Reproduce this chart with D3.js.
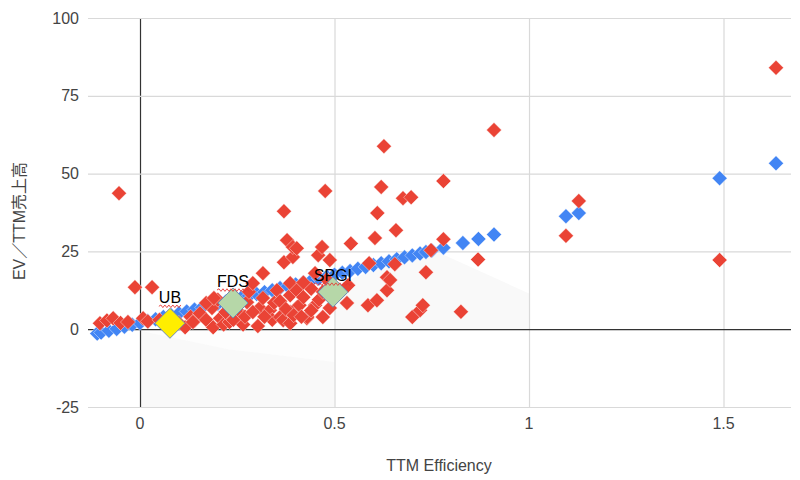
<!DOCTYPE html>
<html><head><meta charset="utf-8">
<script src="https://cdn.jsdelivr.net/npm/d3@7"></script>
<style>body{margin:0;background:#fff}</style>
</head><body><svg id="c" width="800" height="480"></svg>
<script>
// ---- data ----
const xTicks = [0, 0.5, 1, 1.5];
const yTicks = [-25, 0, 25, 50, 75, 100];
const xTitle = "TTM Efficiency";
const yTitle = "EV／TTM売上高";

const redPoints = [
  [-0.103,1.9],[-0.085,2.8],[-0.069,3.5],[-0.05,2.0],[-0.031,2.3],[0.008,3.5],[-0.054,43.7],
  [-0.013,13.5],[0.031,13.5],[0.02,2.5],[0.05,3.0],[0.1,2.0],[0.116,0.6],[0.13,4.0],[0.141,2.9],
  [0.136,2.3],[0.154,5.1],[0.17,3.0],[0.185,8.7],[0.185,6.8],[0.188,0.6],[0.2,9.5],[0.17,8.4],[0.19,10.0],
  [0.206,3.5],[0.215,1.5],[0.23,2.3],[0.25,6.0],[0.257,4.5],[0.265,1.5],[0.275,8.7],[0.28,12.0],
  [0.29,14.8],[0.303,1.0],[0.308,6.8],[0.316,10.0],[0.316,18.0],[0.334,6.1],[0.34,3.0],[0.352,12.5],
  [0.36,3.9],[0.368,2.9],[0.37,37.9],[0.37,21.5],[0.378,28.6],[0.386,5.5],[0.386,10.9],[0.386,14.8],
  [0.386,1.9],[0.393,23.2],[0.393,26.4],[0.403,26.0],[0.403,12.5],[0.403,7.0],[0.41,7.7],[0.42,10.3],
  [0.429,3.5],[0.43,3.9],[0.45,7.7],[0.458,23.8],[0.468,26.4],[0.47,3.9],[0.476,44.4],[0.488,22.2],
  [0.488,6.8],[0.22,5.5],[0.24,3.0],[0.27,4.0],[0.29,5.5],[0.32,4.0],[0.345,8.5],[0.36,9.0],
  [0.375,6.5],[0.395,4.5],[0.415,4.0],[0.44,6.0],[0.46,9.5],[0.47,12.0],[0.44,13.0],[0.42,15.0],
  [0.45,18.0],[0.48,16.0],[0.532,8.4],[0.535,14.1],[0.542,27.5],[0.586,7.7],[0.589,21.2],[0.604,29.3],
  [0.61,37.3],[0.609,9.3],[0.62,45.7],[0.627,58.8],[0.635,16.7],[0.635,12.5],[0.643,15.8],[0.655,20.9],
  [0.658,31.8],[0.676,42.1],[0.697,42.4],[0.70,3.9],[0.72,6.1],[0.727,7.7],[0.735,18.3],[0.748,25.4],
  [0.78,28.9],[0.78,47.6],[0.825,5.6],[0.869,22.4],[0.91,64.0],[1.095,30.0],[1.128,41.2],[1.49,22.2],
  [1.635,84.0]
];

const bluePoints = [
  [-0.11,-1.4],[-0.1,-1.1],[-0.08,-0.5],[-0.06,0.1],[-0.04,0.8],[-0.02,1.4],[0,2.0],[0.02,2.6],
  [0.04,3.2],[0.06,3.9],[0.08,4.5],[0.1,5.1],[0.12,5.7],[0.14,6.3],[0.16,7.0],[0.18,7.6],[0.2,8.2],
  [0.22,8.8],[0.24,9.4],[0.26,10.1],[0.28,10.7],[0.3,11.3],[0.32,11.9],[0.34,12.5],[0.36,13.2],
  [0.38,13.8],[0.4,14.4],[0.42,15.0],[0.44,15.6],[0.46,16.3],[0.48,16.9],[0.5,17.5],[0.52,18.1],
  [0.54,18.7],[0.56,19.4],[0.58,20.0],[0.6,20.6],[0.62,21.2],[0.64,21.8],[0.66,22.5],[0.68,23.1],
  [0.7,23.7],[0.72,24.3],[0.735,24.8],[0.75,25.3],[0.78,26.2],[0.83,27.7],[0.87,29.0],[0.91,30.4],
  [1.095,36.3],[1.128,37.3],[1.49,48.5],[1.635,53.3]
];

const highlightNames = ["UB", "FDS", "SPGI"];
const highlightX = [0.077, 0.239, 0.496];
const highlightY = [1.9, 8.4, 11.9];
const highlightColors = ["#ffee00", "#b6d7a8", "#b6d7a8"];
const labelDy = [-20, -16, -11];

const shadeLowerTop = [[0,-0.5],[0.23,-6.5],[0.5,-10.5]];
const shadeUpperTop = [[0.5,14],[0.6,19],[0.77,24.5],[1.0,11.5]];

// ---- chart ----
const svg = d3.select("#c");
const L = 88, R = 791, T = 18, B = 407;
const x = d3.scaleLinear().domain([-0.1337, 1.6735]).range([L, R]);
const y = d3.scaleLinear().domain([-25, 100]).range([B, T]);
const font = "Arial, 'Liberation Sans', 'Noto Sans CJK JP', sans-serif";

// faint shaded areas
const gS = svg.append("g");
gS.append("path").datum(shadeLowerTop)
  .attr("d", d3.area().x(d => x(d[0])).y0(y(0)).y1(d => y(d[1])))
  .attr("fill", "#fdfdfd");
gS.append("path").datum(shadeLowerTop)
  .attr("d", d3.area().x(d => x(d[0])).y0(y(-25)).y1(d => y(d[1])))
  .attr("fill", "#f9f9f9");
gS.append("path").datum(shadeUpperTop)
  .attr("d", d3.area().x(d => x(d[0])).y0(y(0)).y1(d => y(d[1])))
  .attr("fill", "#f9f9f9");

// gridlines
const gy = svg.append("g").attr("transform", `translate(${L},0)`)
  .call(d3.axisLeft(y).tickValues(yTicks).tickSize(-(R - L)).tickFormat(""));
gy.select(".domain").remove();
gy.selectAll(".tick line").attr("stroke", d => d === 0 ? "#333" : "#d9d9d9").attr("stroke-width", 1.2);

const gx = svg.append("g").attr("transform", `translate(0,${B})`)
  .call(d3.axisBottom(x).tickValues(xTicks).tickSize(-(B - T)).tickFormat(""));
gx.select(".domain").remove();
gx.selectAll(".tick line").attr("stroke", d => d === 0 ? "#333" : "#d9d9d9").attr("stroke-width", 1.2);
gy.raise();
gy.selectAll(".tick").filter(d => d !== 0).lower();

// tick labels
svg.append("g").selectAll("text").data(yTicks).join("text")
  .attr("x", 79).attr("y", d => y(d)).attr("dy", "0.35em")
  .attr("text-anchor", "end").attr("font-family", font).attr("font-size", 16)
  .attr("fill", "#444").text(d => d);
svg.append("g").selectAll("text").data(xTicks).join("text")
  .attr("x", d => x(d)).attr("y", 423).attr("dy", "0.35em")
  .attr("text-anchor", "middle").attr("font-family", font).attr("font-size", 16)
  .attr("fill", "#444").text(d => d);

// axis titles
svg.append("text").attr("x", 439).attr("y", 465).attr("dy", "0.35em")
  .attr("text-anchor", "middle").attr("font-family", font).attr("font-size", 16)
  .attr("fill", "#444").text(xTitle);
svg.append("text").attr("transform", "translate(19,221) rotate(-90)").attr("dy", "0.35em")
  .attr("text-anchor", "middle").attr("font-family", font).attr("font-size", 16)
  .attr("fill", "#444").text(yTitle);

const diamond = r => `M0,${-r}L${r},0L0,${r}L${-r},0Z`;

// blue series
svg.append("g").selectAll("path").data(bluePoints).join("path")
  .attr("d", diamond(7.5))
  .attr("transform", d => `translate(${x(d[0])},${y(d[1])})`)
  .attr("fill", "#4285f4").attr("stroke", "#fff").attr("stroke-width", 0.6).attr("stroke-opacity", 0.7);

// red series
svg.append("g").selectAll("path").data(redPoints).join("path")
  .attr("d", diamond(7.5))
  .attr("transform", d => `translate(${x(d[0])},${y(d[1])})`)
  .attr("fill", "#ea4335").attr("stroke", "#fff").attr("stroke-width", 0.6).attr("stroke-opacity", 0.7);

// highlighted points
const hl = highlightNames.map((n, i) => ({n, x: highlightX[i], y: highlightY[i], c: highlightColors[i], dy: labelDy[i]}));
const gH = svg.append("g");
gH.selectAll("path").data(hl).join("path")
  .attr("d", diamond(15))
  .attr("transform", d => `translate(${x(d.x)},${y(d.y)})`)
  .attr("fill", d => d.c).attr("stroke", "#6f8db3").attr("stroke-width", 1);
const labels = gH.selectAll("text").data(hl).join("text")
  .attr("x", d => x(d.x)).attr("y", d => y(d.y) + d.dy)
  .attr("text-anchor", "middle").attr("font-family", font).attr("font-size", 16)
  .attr("fill", "#000").text(d => d.n);
labels.each(function(d) {
  const w = this.getComputedTextLength();
  const x0 = x(d.x) - w / 2, x1 = x(d.x) + w / 2, yy = y(d.y) + d.dy + 3;
  let p = `M${x0},${yy}`;
  let up = true;
  for (let xx = x0 + 2; xx <= x1; xx += 2) { p += `L${xx},${yy + (up ? -1.3 : 1.3)}`; up = !up; }
  gH.append("path").attr("d", p).attr("fill", "none").attr("stroke", "#e53935").attr("stroke-width", 0.9);
});
</script>
</body></html>
